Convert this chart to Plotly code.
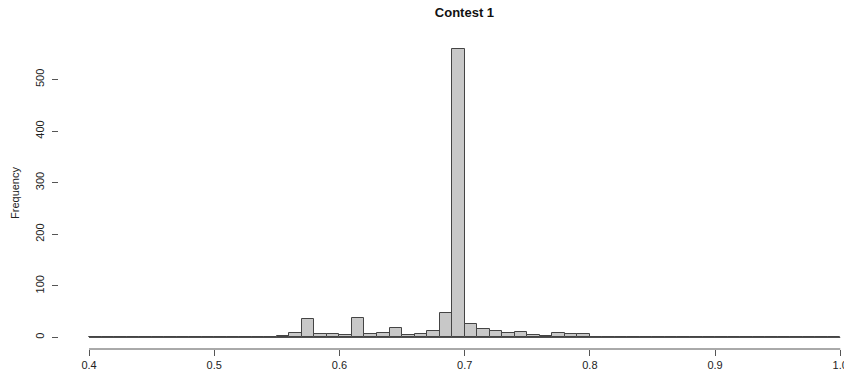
import plotly.graph_objects as go

# Histogram data (bin width 0.01, from 0.40 to 1.00)
bin_starts = [round(0.40 + 0.01 * i, 2) for i in range(60)]
counts = [
    0, 0, 0, 0, 0, 0, 0, 0, 0, 0,        # 0.40-0.50
    0, 0, 0, 0, 0, 2, 9, 36, 6, 7,       # 0.50-0.60
    5, 37, 7, 9, 18, 4, 7, 13, 48, 560,  # 0.60-0.70
    26, 16, 12, 9, 11, 5, 3, 9, 7, 6,    # 0.70-0.80
    0, 0, 0, 0, 0, 0, 0, 0, 0, 0,        # 0.80-0.90
    0, 0, 0, 0, 0, 0, 0, 0, 0, 0,        # 0.90-1.00
]
bin_width = 0.01
x_ticks = [0.4, 0.5, 0.6, 0.7, 0.8, 0.9, 1.0]
x_tick_labels = ["0.4", "0.5", "0.6", "0.7", "0.8", "0.9", "1.0"]
y_ticks = [0, 100, 200, 300, 400, 500]
title = "Contest 1"
y_title = "Frequency"

centers = [s + bin_width / 2 for s in bin_starts]

fig = go.Figure()
fig.add_trace(go.Bar(
    x=centers, y=counts, width=bin_width,
    marker=dict(color="#C8C8C8", line=dict(color="#444444", width=1)),
    hoverinfo="x+y",
))

font = "Liberation Sans, Arial, Helvetica, sans-serif"
ymax = max(counts)
ypad = ymax * 0.04
y_lo, y_hi = -ypad, ymax + ypad
xr0 = x_ticks[0] - (x_ticks[-1] - x_ticks[0]) * 0.04


def ypaper(v):
    return (v - y_lo) / (y_hi - y_lo)


fig.update_layout(
    width=844, height=379,
    margin=dict(l=59, r=1, t=37, b=30, autoexpand=False),
    paper_bgcolor="white", plot_bgcolor="white",
    showlegend=False,
    bargap=0,
    font=dict(family=font, size=11, color="#222222"),
    title=dict(text="<b>" + title + "</b>", x=0.5503, xanchor="center",
               y=0.968, yanchor="middle", font=dict(size=13, color="#111111")),
    xaxis=dict(range=[xr0, 1.0022], tickvals=x_ticks, ticktext=x_tick_labels,
               ticks="outside", ticklen=6, tickcolor="#555555", tickwidth=1,
               showline=False, showgrid=False, zeroline=False,
               automargin=False, ticklabeloverflow="allow"),
    yaxis=dict(range=[y_lo, y_hi], tickvals=y_ticks,
               ticks="outside", ticklen=6, tickcolor="#555555", tickwidth=1,
               tickangle=-90, showline=False, showgrid=False, zeroline=False,
               automargin=False, ticklabelstandoff=4,
               title=dict(text=y_title, standoff=11, font=dict(size=11))),
    # helper axis used only to draw the R-style y-axis line over 0..500
    yaxis2=dict(domain=[ypaper(y_ticks[0]), ypaper(y_ticks[-1])],
                anchor="free", position=0, range=[0, 1],
                showline=True, linecolor="#555555", linewidth=1,
                showticklabels=False, ticks="", showgrid=False, zeroline=False,
                fixedrange=True),
    shapes=[
        # R-style detached x-axis line spanning only the tick range
        dict(type="line", xref="x", yref="paper", x0=x_ticks[0], x1=x_ticks[-1],
             y0=0, y1=0, line=dict(color="#555555", width=1)),
        # zero-height bins drawn as a baseline, like R's hist
        dict(type="line", xref="x", yref="y", x0=bin_starts[0],
             x1=bin_starts[-1] + bin_width, y0=0, y1=0,
             line=dict(color="#444444", width=1), layer="below"),
    ],
)

fig.write_html("out.html", config={"displayModeBar": False},
               post_script="document.body.style.margin='0';document.body.style.overflow='hidden';")
